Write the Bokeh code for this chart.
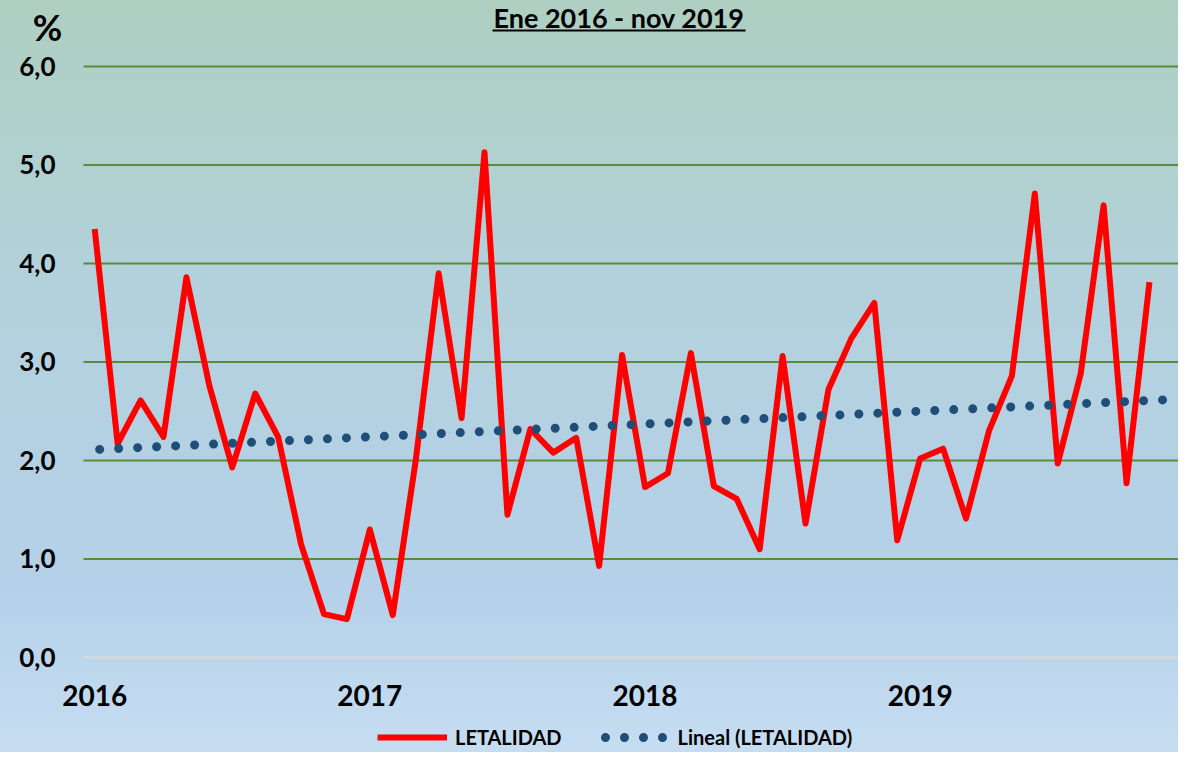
from bokeh.plotting import figure
from bokeh.models import Range1d, FixedTicker, Label, BoxAnnotation, Legend, LegendItem
from bokeh.embed import file_html
from bokeh.resources import INLINE

# ---- data ----
months = list(range(47))  # Jan 2016 .. Nov 2019
letalidad = [4.35, 2.17, 2.61, 2.24, 3.86, 2.76, 1.93, 2.68, 2.24, 1.15, 0.44, 0.39,
             1.30, 0.43, 2.00, 3.90, 2.43, 5.13, 1.45, 2.32, 2.08, 2.23, 0.93, 3.07,
             1.73, 1.87, 3.09, 1.74, 1.61, 1.10, 3.06, 1.36, 2.72, 3.24, 3.60, 1.19,
             2.02, 2.12, 1.41, 2.30, 2.86, 4.71, 1.97, 2.88, 4.59, 1.77, 3.81]
trend_x = [0, 47]
trend_y = [2.11, 2.62]
year_ticks = [0, 12, 24, 36]
year_labels = ["2016", "2017", "2018", "2019"]
y_ticks = [0, 1, 2, 3, 4, 5, 6]
y_labels = ["0,0", "1,0", "2,0", "3,0", "4,0", "5,0", "6,0"]
grid_ticks = [1, 2, 3, 4, 5, 6]
title_text = "Ene 2016 - nov 2019"
unit_text = "%"

FONT = "Lato"
W, H = 1178, 752
# plot-area extent along x (in month units): the category band edges
plot_left, plot_right = -0.488, 47.5

p = figure(width=W, height=H, x_range=Range1d(-4.108, 47.266), y_range=Range1d(-0.9645, 6.670),
           output_backend="svg", toolbar_location=None,
           min_border_left=0, min_border_right=0, min_border_top=0, min_border_bottom=0)
p.background_fill_alpha = 0
p.border_fill_alpha = 0
p.outline_line_color = None
p.styles = {"background": "linear-gradient(to bottom, #AECFC1 0%, #B3D1DC 40%, #B4D1E9 78%, #C6DDF1 100%)"}

# horizontal gridlines limited to the plot area
p.xgrid.visible = False
p.ygrid.visible = False
p.segment(x0=[plot_left] * len(grid_ticks), x1=[plot_right] * len(grid_ticks),
          y0=grid_ticks, y1=grid_ticks, line_color="#5B8C3A", line_width=2)

# x axis on the zero line
p.xaxis.fixed_location = 0
p.xaxis.bounds = (plot_left, plot_right)
p.xaxis.ticker = FixedTicker(ticks=year_ticks)
p.xaxis.major_label_overrides = dict(zip(year_ticks, year_labels))
p.xaxis.major_tick_line_color = None
p.xaxis.minor_tick_line_color = None
p.xaxis.major_tick_out = 0
p.xaxis.major_tick_in = 0
p.xaxis.axis_line_color = "#D9D9D9"
p.xaxis.axis_line_width = 2
p.xaxis.major_label_standoff = 28
p.xaxis.major_label_text_font = FONT
p.xaxis.major_label_text_font_style = "bold"
p.xaxis.major_label_text_font_size = "28px"
p.xaxis.major_label_text_color = "#000000"

# y axis at the left edge of the plot area
p.yaxis.fixed_location = plot_left
p.yaxis.ticker = FixedTicker(ticks=y_ticks)
p.yaxis.major_label_overrides = dict(zip(y_ticks, y_labels))
p.yaxis.axis_line_color = None
p.yaxis.major_tick_line_color = None
p.yaxis.minor_tick_line_color = None
p.yaxis.major_tick_out = 0
p.yaxis.major_tick_in = 0
p.yaxis.major_label_standoff = 28
p.yaxis.major_label_text_font = FONT
p.yaxis.major_label_text_font_style = "bold"
p.yaxis.major_label_text_font_size = "26px"
p.yaxis.major_label_text_color = "#000000"

# series
r1 = p.line(months, letalidad, line_color="#FF0000", line_width=6, line_join="round")
r2 = p.line(trend_x, trend_y, line_color="#1F4E79", line_width=9,
            line_dash="0 19", line_dash_offset=14, line_cap="round")

legend = Legend(items=[LegendItem(label="LETALIDAD", renderers=[r1]),
                       LegendItem(label="Lineal (LETALIDAD)", renderers=[r2])],
                orientation="horizontal", location=(377, 3),
                glyph_width=70, glyph_height=20, label_standoff=8, spacing=38,
                padding=0, margin=0, background_fill_alpha=0, border_line_color=None,
                label_text_font=FONT, label_text_font_style="bold",
                label_text_font_size="20px", label_text_color="#000000")
p.add_layout(legend, "center")

# title with underline, and unit
p.add_layout(Label(x=618.5, y=H - 17, x_units="screen", y_units="screen", text=title_text,
                   text_align="center", text_baseline="middle", text_font=FONT,
                   text_font_style="bold", text_font_size="27px", text_color="#000000"))
p.add_layout(BoxAnnotation(left=492, right=745, bottom=H - 31, top=H - 29,
                           left_units="screen", right_units="screen",
                           bottom_units="screen", top_units="screen",
                           fill_color="#000000", fill_alpha=1, line_color=None))
p.add_layout(Label(x=47, y=H - 26, x_units="screen", y_units="screen", text=unit_text,
                   text_align="center", text_baseline="middle", text_font=FONT,
                   text_font_style="bold", text_font_size="36px", text_color="#000000"))

open("out.html", "w").write(file_html(p, INLINE))
